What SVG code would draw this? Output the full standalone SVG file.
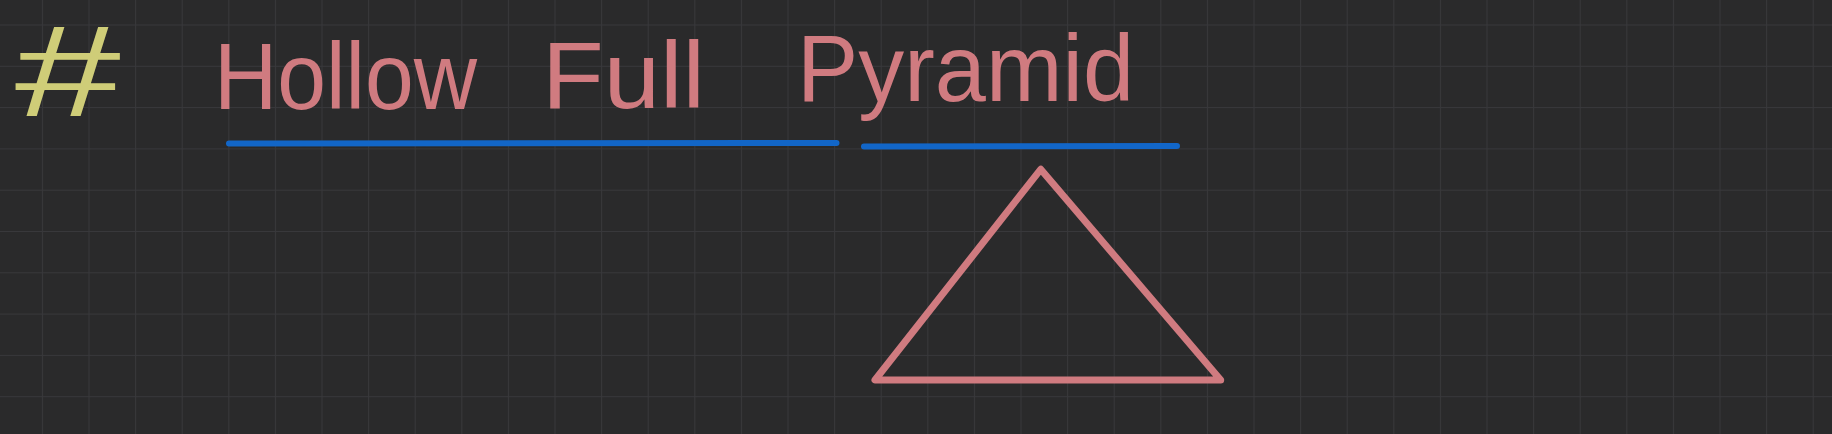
<svg xmlns="http://www.w3.org/2000/svg" width="1832" height="434" viewBox="0 0 1832 434">
  <defs>
    <pattern id="grid" x="41.9" y="24.5" width="46.6" height="41.3" patternUnits="userSpaceOnUse">
      <path d="M0 0 V41.3 M0 0 H46.6" fill="none" stroke="#38383b" stroke-width="2"/>
    </pattern>
    <style>
      .bg { fill: #2a2a2b; }
      .hand { font-family: "Liberation Sans", Arial, sans-serif; fill: #d07b80; font-size: 95px; }
      .hash { font-family: "Liberation Sans", Arial, sans-serif; fill: #cfcd78; font-size: 130px; font-style: italic; }
      .ul { stroke: #1266c8; stroke-width: 6; stroke-linecap: round; fill: none; }
      .shape { stroke: #d07b80; stroke-width: 7; stroke-linejoin: round; fill: none; }
    </style>
  </defs>
  <rect class="bg" x="0" y="0" width="1832" height="434"/>
  <rect x="0" y="0" width="1832" height="434" fill="url(#grid)"/>

  <g id="heading-mark">
    <text class="hash" x="12" y="116" textLength="106" lengthAdjust="spacingAndGlyphs">#</text>
  </g>

  <g id="underlines">
    <line class="ul" x1="229" y1="143.5" x2="836.5" y2="143"/>
    <line class="ul" x1="864" y1="146.5" x2="1177" y2="146"/>
  </g>

  <g id="title">
    <text class="hand" x="214" y="109" textLength="263" lengthAdjust="spacingAndGlyphs">Hollow</text>
    <text class="hand" x="542" y="108" textLength="163" lengthAdjust="spacingAndGlyphs">Full</text>
    <text class="hand" x="797" y="101" textLength="337" lengthAdjust="spacingAndGlyphs">Pyramid</text>
  </g>

  <g id="pyramid">
    <polygon class="shape" points="1040.7,169.3 875,380 1220.7,380"/>
  </g>
</svg>
